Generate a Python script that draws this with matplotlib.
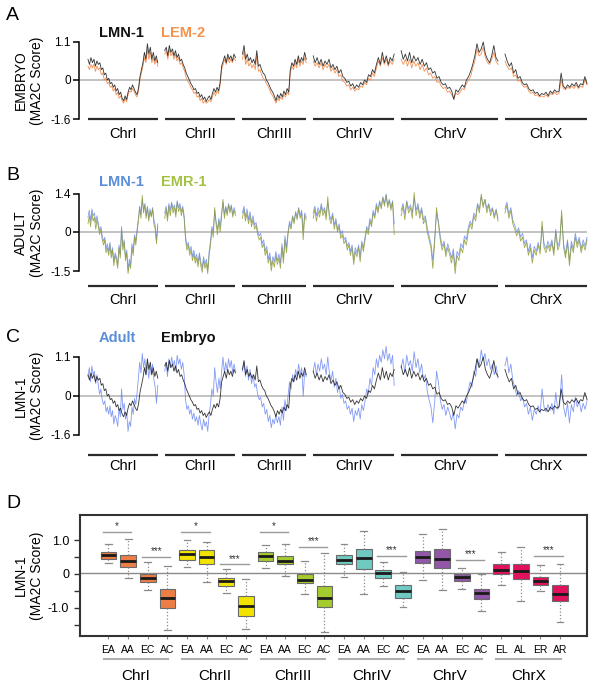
import numpy as np
import matplotlib
matplotlib.use("Agg")
import matplotlib.pyplot as plt
import matplotlib.transforms as mtransforms
from matplotlib import font_manager

names = {f.name for f in font_manager.fontManager.ttflist}
FONT = 'Liberation Sans Narrow' if 'Liberation Sans Narrow' in names else 'Liberation Sans'
plt.rcParams['font.family'] = [FONT, 'DejaVu Sans']

# ---------------- data ----------------
chroms = ['ChrI', 'ChrII', 'ChrIII', 'ChrIV', 'ChrV', 'ChrX']
chrom_len = [15.07, 15.28, 13.78, 17.49, 20.92, 17.72]   # Mb
chrom_gap = 1.5

# panel A: embryo LMN-1 (black) and LEM-2 (orange), values along each chromosome
emb_lmn1 = [
    [0.6, 0.45, 0.65, 0.5, 0.6, 0.4, 0.55, 0.45, 0.5, 0.3, 0.35, 0.15, 0.2, 0.0, 0.05, -0.15, -0.1,
     -0.3, -0.2, -0.45, -0.35, -0.6, -0.5, -0.75, -0.85, -0.65, -0.8, -0.5, -0.3, -0.4, -0.2, -0.35,
     -0.5, -0.6, -0.35, 0.1, 0.3, 0.5, 0.8, 0.6, 1.05, 0.75, 0.95, 0.6, 0.8, 0.55, 0.7, 0.5],
    [0.85, 0.95, 0.7, 1.0, 0.8, 0.9, 0.7, 0.85, 0.65, 0.75, 0.55, 0.6, 0.45, 0.35, 0.2, 0.1, 0.0, -0.15,
     -0.25, -0.4, -0.35, -0.55, -0.5, -0.7, -0.6, -0.8, -0.7, -0.88, -0.75, -0.65, -0.8, -0.55, -0.35,
     -0.5, -0.3, -0.45, -0.1, 0.4, 0.55, 0.7, 0.5, 0.75, 0.6, 0.7, 0.55, 0.75, 0.65],
    [0.75, 1.0, 0.6, 0.75, 0.55, 0.65, 0.5, 0.6, 0.45, 0.85, 0.4, 0.45, 0.3, 0.2, 0.15, 0.0, -0.1, -0.25,
     -0.4, -0.5, -0.65, -0.85, -0.6, -0.75, -0.55, -0.7, -0.45, -0.6, -0.35, -0.5, 0.3, 0.5, 0.4, 0.6,
     0.45, 0.7, 0.5, 0.65, 0.55, 0.8, 0.6],
    [0.7, 0.5, 0.65, 0.45, 0.6, 0.4, 0.55, 0.45, 0.6, 0.35, 0.45, 0.3, 0.4, 0.2, 0.3, 0.1, 0.05, -0.1,
     -0.05, -0.25, -0.15, -0.35, -0.2, -0.3, -0.1, -0.2, 0.0, -0.1, 0.15, 0.1, 0.3, 0.2, 0.45, 0.65,
     0.45, 0.8, 0.5, 0.7, 0.45, 0.65, 0.55, 0.75],
    [0.85, 0.6, 0.75, 0.55, 0.8, 0.5, 0.7, 0.55, 0.65, 0.45, 0.6, 0.4, 0.5, 0.3, 0.35, 0.2, 0.25, 0.05,
     0.1, -0.1, -0.2, -0.15, -0.35, -0.3, -0.45, -0.8, -0.4, -0.5, -0.35, -0.2, -0.3, 0.0, 0.1, 0.25,
     0.45, 0.7, 1.05, 0.8, 0.9, 1.1, 0.75, 0.6, 0.5, 0.7, 1.0, 0.65, 0.55],
    [0.75, 0.55, 0.4, 0.5, 0.2, 0.3, 0.05, 0.1, -0.1, -0.2, -0.15, -0.35, -0.45, -0.4, -0.55, -0.5,
     -0.65, -0.55, -0.6, -0.5, -0.65, -0.45, -0.55, -0.4, -0.5, -0.45, 0.2, -0.25, -0.35, -0.2, -0.3,
     -0.15, -0.25, -0.1, -0.3, -0.15, -0.2, 0.1, -0.15],
]
emb_lem2 = [
    [0.4, 0.3, 0.45, 0.35, 0.45, 0.25, 0.4, 0.3, 0.35, 0.15, 0.2, 0.0, 0.05, -0.15, -0.1, -0.3, -0.25,
     -0.45, -0.35, -0.6, -0.5, -0.75, -0.65, -0.85, -0.95, -0.75, -0.9, -0.6, -0.45, -0.5, -0.35, -0.45,
     -0.6, -0.7, -0.45, 0.0, 0.2, 0.4, 0.65, 0.5, 0.9, 0.6, 0.8, 0.5, 0.65, 0.45, 0.6, 0.4],
    [0.75, 0.85, 0.6, 0.9, 0.7, 0.8, 0.6, 0.75, 0.55, 0.65, 0.45, 0.5, 0.35, 0.25, 0.05, -0.05, -0.15,
     -0.3, -0.4, -0.55, -0.5, -0.7, -0.65, -0.85, -0.75, -0.95, -0.85, -0.95, -0.9, -0.8, -0.9, -0.7,
     -0.5, -0.65, -0.45, -0.55, -0.2, 0.3, 0.45, 0.6, 0.45, 0.65, 0.5, 0.6, 0.5, 0.65, 0.55],
    [0.6, 0.85, 0.45, 0.6, 0.4, 0.5, 0.35, 0.45, 0.3, 0.7, 0.25, 0.3, 0.15, 0.05, 0.0, -0.15, -0.25,
     -0.4, -0.55, -0.65, -0.8, -0.95, -0.75, -0.85, -0.7, -0.8, -0.6, -0.7, -0.5, -0.6, 0.2, 0.4, 0.3,
     0.5, 0.35, 0.6, 0.4, 0.55, 0.45, 0.65, 0.5],
    [0.55, 0.4, 0.5, 0.35, 0.5, 0.3, 0.45, 0.35, 0.45, 0.25, 0.35, 0.2, 0.3, 0.1, 0.15, -0.05, -0.1,
     -0.25, -0.2, -0.4, -0.3, -0.45, -0.35, -0.4, -0.25, -0.3, -0.1, -0.2, 0.05, 0.0, 0.2, 0.1, 0.35,
     0.55, 0.4, 0.65, 0.45, 0.6, 0.4, 0.55, 0.45, 0.6],
    [0.6, 0.45, 0.6, 0.4, 0.6, 0.35, 0.55, 0.4, 0.5, 0.3, 0.45, 0.25, 0.35, 0.15, 0.2, 0.05, 0.1, -0.1,
     -0.05, -0.25, -0.35, -0.3, -0.5, -0.45, -0.6, -0.75, -0.55, -0.6, -0.5, -0.35, -0.4, -0.15, 0.0,
     0.1, 0.35, 0.55, 0.9, 0.7, 0.75, 0.95, 0.65, 0.5, 0.45, 0.6, 0.8, 0.55, 0.45],
    [0.55, 0.4, 0.3, 0.35, 0.1, 0.15, -0.05, 0.0, -0.2, -0.3, -0.25, -0.45, -0.55, -0.5, -0.65, -0.6,
     -0.7, -0.65, -0.7, -0.6, -0.7, -0.55, -0.6, -0.5, -0.6, -0.55, 0.0, -0.35, -0.4, -0.3, -0.35,
     -0.25, -0.35, -0.2, -0.35, -0.25, -0.3, 0.0, -0.2],
]

# panel B: adult LMN-1 (blue) and EMR-1 (olive)
adu_lmn1 = [
    [0.55, 0.8, 0.4, 0.85, 0.6, 0.7, 0.35, 0.6, 0.3, 0.05, 0.2, -0.15, -0.35, -0.2, -0.65, -0.45, -0.75,
     -0.4, -0.85, -0.6, -1.15, -0.8, -0.95, -1.25, -0.5, -0.85, 0.2, -0.55, -0.3, -0.95, -0.7, -1.45,
     -1.05, -1.25, -0.45, -0.75, -0.1, -0.35, 0.1, 0.5, 0.95, 0.65, 1.2, 0.8, 1.05, 0.6, 0.95, 0.5,
     0.85, 0.6, 0.9, 0.45, 0.25, -0.3, 0.3],
    [0.7, 0.95, 0.55, 1.05, 0.8, 1.1, 0.85, 1.0, 0.7, 1.15, 0.9, 1.05, 0.75, 0.95, 0.6, -0.15, -0.55,
     -0.4, -0.75, -0.55, -0.95, -0.7, -1.05, -0.85, -1.2, -0.8, -1.15, -1.4, -0.95, -1.25, -1.05, -1.45,
     -0.75, -0.35, 0.2, 0.0, 0.8, 0.4, 0.1, 0.5, 0.2, 0.7, 1.1, 0.65, 0.95, 0.7, 1.05, 0.8, 1.0, 0.65,
     0.9, 0.7],
    [0.7, 0.95, 0.55, 0.85, 0.45, 0.75, 0.35, 0.6, 0.25, 0.35, 0.05, -0.15, -0.05, -0.45, -0.3, -0.75,
     -0.55, -1.05, -0.8, -1.3, -0.95, -1.15, -0.75, -1.1, -0.85, -1.2, -0.45, -1.0, -0.15, -0.6, 0.0,
     0.4, 0.2, 0.6, 0.4, 0.75, 0.55, 0.9, 0.6, 0.8, 0.0, 0.7, 0.55],
    [0.7, 0.95, 0.6, 0.9, 0.7, 1.05, 0.75, 0.9, 0.6, 1.1, 0.65, 0.45, 0.7, 0.25, 0.5, 0.1, 0.3, -0.1,
     0.05, -0.3, -0.2, -0.55, -0.4, -0.75, -0.5, -1.05, -0.6, -0.8, -0.5, -0.95, -0.35, -0.6, -0.2, 0.2,
     0.05, 0.5, 0.3, 0.8, 0.6, 1.05, 0.8, 1.15, 0.95, 1.3, 1.05, 1.4, 1.0, 1.2, 0.9, 1.15, 0.3],
    [0.8, 1.05, 0.65, 1.15, 0.85, 1.0, 0.7, 1.25, 0.8, 1.05, 0.65, 0.9, 0.45, 0.6, 0.15, -0.15, -0.45,
     -1.1, -0.25, 0.7, 0.4, -0.15, -0.55, -0.35, -0.8, -0.45, -0.7, -1.0, -0.65, -1.35, -0.75, -0.9,
     -0.45, -0.6, -0.15, -0.3, 0.15, 0.4, 0.25, 0.7, 0.55, 1.05, 0.85, 1.3, 1.0, 1.2, 0.85, 1.05, 0.75,
     0.9, 0.6, 0.85, 0.5],
    [0.85, 1.1, 0.65, 0.9, 0.45, 0.25, 0.0, 0.15, -0.2, -0.05, -0.45, -0.3, -0.75, -0.45, -1.0, -0.55,
     -0.75, -0.4, -0.7, 0.2, -0.45, -0.65, -0.35, -0.6, -0.3, -0.75, 0.1, -0.55, -0.35, 0.6, -0.45,
     -0.85, -0.3, -1.1, -0.35, -0.65, -0.05, -0.45, -0.2, -0.65, -0.3, -0.55, -0.2],
]
adu_emr1 = [
    [0.3, 0.6, 0.2, 0.7, 0.4, 0.55, 0.1, 0.45, 0.2, -0.1, 0.1, -0.3, -0.5, -0.3, -0.8, -0.6, -0.9, -0.5,
     -1.0, -0.7, -1.3, -0.9, -1.1, -1.4, -0.6, -1.0, 0.1, -0.7, -0.4, -1.1, -0.8, -1.6, -1.2, -1.4,
     -0.6, -0.9, -0.2, -0.5, 0.0, 0.4, 0.9, 0.5, 1.35, 0.7, 1.0, 0.5, 0.9, 0.4, 0.75, 0.55, 0.85, 0.3,
     0.1, -0.45, 0.2],
    [0.5, 0.85, 0.4, 0.95, 0.6, 1.05, 0.7, 0.9, 0.55, 1.1, 0.75, 0.95, 0.6, 0.85, 0.5, -0.3, -0.7,
     -0.5, -0.9, -0.7, -1.1, -0.85, -1.2, -1.0, -1.35, -0.9, -1.3, -1.55, -1.1, -1.4, -1.2, -1.6, -0.9,
     -0.5, 0.1, -0.2, 0.9, 0.3, -0.1, 0.4, 0.0, 0.6, 1.2, 0.5, 0.9, 0.6, 1.0, 0.7, 0.95, 0.55, 0.8, 0.6],
    [0.5, 0.85, 0.4, 0.7, 0.3, 0.6, 0.2, 0.45, 0.1, 0.25, -0.1, -0.3, -0.2, -0.6, -0.45, -0.9, -0.7,
     -1.2, -0.95, -1.5, -1.1, -1.35, -0.9, -1.25, -1.0, -1.4, -0.6, -1.2, -0.3, -0.8, -0.1, 0.3, 0.1,
     0.55, 0.3, 0.7, 0.45, 0.85, 0.5, 0.7, -0.3, 0.6, 0.45],
    [0.5, 0.85, 0.4, 0.75, 0.55, 0.95, 0.6, 0.8, 0.45, 1.3, 0.5, 0.3, 0.6, 0.1, 0.4, 0.0, 0.2, -0.25,
     -0.1, -0.45, -0.3, -0.7, -0.5, -0.9, -0.6, -1.25, -0.75, -0.95, -0.6, -1.15, -0.45, -0.75, -0.3,
     0.1, -0.1, 0.4, 0.2, 0.7, 0.5, 0.95, 0.7, 1.1, 0.85, 1.25, 0.95, 1.35, 0.9, 1.15, 0.8, 1.1, -0.1],
    [0.6, 0.95, 0.45, 1.1, 0.7, 0.9, 0.5, 1.45, 0.6, 0.95, 0.5, 0.8, 0.3, 0.5, 0.0, -0.3, -0.6, -1.4,
     -0.4, 0.9, 0.3, -0.3, -0.7, -0.45, -0.95, -0.6, -0.85, -1.2, -0.8, -1.6, -0.9, -1.1, -0.6, -0.8,
     -0.3, -0.5, 0.0, 0.3, 0.1, 0.6, 0.4, 1.0, 0.7, 1.4, 0.9, 1.2, 0.7, 1.0, 0.6, 0.85, 0.5, 0.8, 0.4],
    [0.7, 1.0, 0.5, 0.8, 0.3, 0.1, -0.15, 0.05, -0.35, -0.2, -0.6, -0.4, -0.9, -0.6, -1.2, -0.7, -0.9,
     -0.5, -0.85, 0.4, -0.6, -0.8, -0.5, -0.75, -0.4, -0.9, 0.0, -0.7, -0.5, 0.8, -0.6, -1.0, -0.4,
     -1.3, -0.5, -0.8, -0.2, -0.6, -0.3, -0.8, -0.45, -0.7, -0.3],
]

# panel D: box statistics, 4 boxes per chromosome
box_labels = ['EA', 'AA', 'EC', 'AC'] * 5 + ['EL', 'AL', 'ER', 'AR']
box_hi = [0.89, 1.04, 0.35, 0.22, 1.01, 0.94, 0.15, -0.15, 0.84, 0.89, 0.37, 0.61,
          0.89, 1.28, 0.34, 0.05, 1.18, 1.33, 0.18, 0.00, 0.64, 0.79, 0.25, 0.30]
box_q3 = [0.64, 0.57, 0.00, -0.44, 0.71, 0.69, -0.12, -0.65, 0.65, 0.54, -0.02, -0.36,
          0.57, 0.73, 0.10, -0.32, 0.67, 0.73, 0.00, -0.44, 0.30, 0.28, -0.08, -0.32]
box_med = [0.56, 0.39, -0.12, -0.71, 0.59, 0.49, -0.20, -0.95, 0.52, 0.39, -0.17, -0.73,
           0.42, 0.47, 0.01, -0.52, 0.50, 0.44, -0.09, -0.58, 0.12, 0.07, -0.22, -0.59]
box_q1 = [0.44, 0.20, -0.24, -1.02, 0.42, 0.30, -0.35, -1.25, 0.39, 0.30, -0.28, -0.99,
          0.30, 0.15, -0.12, -0.71, 0.33, 0.18, -0.20, -0.76, 0.00, -0.15, -0.32, -0.79]
box_lo = [0.32, -0.12, -0.49, -1.65, 0.20, -0.25, -0.57, -1.63, 0.18, -0.05, -0.61, -1.73,
          -0.10, -0.59, -0.35, -0.99, -0.18, -0.49, -0.44, -1.11, -0.32, -0.79, -0.52, -1.43]
chrom_colors = ['#EC7E45', '#F2E400', '#A5CB2F', '#6FCAC2', '#9257A8', '#E0125D']

sig_left = [1, 3, 5, 7, 9, 11, 15, 19, 23]
sig_right = [2, 4, 6, 8, 10, 12, 16, 20, 24]
sig_text = ['*', '***', '*', '***', '*', '***', '***', '***', '***']
sig_level = [1.23, 0.49, 1.23, 0.28, 1.23, 0.79, 0.54, 0.41, 0.52]

# ---------------- layout helpers ----------------
W, H = 600, 685
fig = plt.figure(figsize=(6, 6.85), dpi=100)


def rect(x0, y0, x1, y1):
    return [x0 / W, 1 - y1 / H, (x1 - x0) / W, (y1 - y0) / H]


starts = np.concatenate([[0], np.cumsum(np.array(chrom_len) + chrom_gap)[:-1]])
ends = starts + np.array(chrom_len)
centers = (starts + ends) / 2


def track(top, bottom, zero, tick_top, tick_bot, pad):
    ax = fig.add_axes(rect(79, top, 590, bottom))
    (vt, pt), (vb, pb) = tick_top, tick_bot
    pp = (zero - pt) / vt
    nn = (pb - zero) / (-vb)
    r = nn / pp
    ax.set_yscale('function', functions=(lambda v: np.where(v >= 0, v, v * r),
                                         lambda u: np.where(u >= 0, u, u / r)))
    ax.set_ylim(-(bottom - zero) / nn, (zero - top) / pp)
    ax.set_xlim(-1.94, 108.4)
    for s in ['top', 'right', 'bottom']:
        ax.spines[s].set_visible(False)
    ax.spines['left'].set_bounds(vb, vt)
    ax.spines['left'].set_linewidth(1.1)
    ax.set_yticks([vb, 0, vt], ['%g' % vb, '0', '%g' % vt])
    ax.yaxis.set_minor_locator(matplotlib.ticker.NullLocator())
    ax.tick_params(axis='y', length=4, width=1.1, pad=2, labelsize=8.5)
    ax.set_xticks(centers, chroms)
    ax.tick_params(axis='x', length=0, pad=pad, labelsize=10.5)
    ax.hlines(0, -1.94, ends[-1], color='#b8b8b8', lw=1.2, zorder=0)
    trans = mtransforms.blended_transform_factory(ax.transData, ax.transAxes)
    ax.hlines([0] * 6, starts, ends, transform=trans, colors='#2a2a2a', lw=1.6, clip_on=False)
    return ax


def draw_series(ax, series, color, lw=0.6, alpha=0.9):
    for i, vals in enumerate(series):
        x = starts[i] + np.linspace(0, chrom_len[i], len(vals))
        ax.plot(x, vals, color=color, lw=lw, alpha=alpha, clip_on=False)


def ylabel(line1, y):
    fig.text(21 / W, 1 - y / H, line1, rotation=90, ha='center', va='center', fontsize=10)
    fig.text(37 / W, 1 - y / H, '(MA2C Score)', rotation=90, ha='center', va='center', fontsize=10)


def letter(s, y):
    fig.text(6 / W, 1 - y / H, s, fontsize=14, va='center', ha='left')


def legend(items, y):
    for (s, c), x in zip(items, [99, 161]):
        fig.text(x / W, 1 - y / H, s, color=c, fontweight='bold', fontsize=10.5, va='center')


# ---------------- panel A ----------------
axA = track(30, 119, 80, (1.1, 42), (-1.6, 119), 6)
draw_series(axA, emb_lem2, '#F28442')
draw_series(axA, emb_lmn1, '#1e1e1e')
letter('A', 15)
legend([('LMN-1', '#111111'), ('LEM-2', '#F6914C')], 33)
ylabel('EMBRYO', 80.5)

# ---------------- panel B ----------------
axB = track(183, 286, 232, (1.4, 194), (-1.5, 271), 5)
draw_series(axB, adu_lmn1, '#6d8cf0', alpha=0.85)
draw_series(axB, adu_emr1, '#8e9a33', alpha=0.85)
letter('B', 175)
legend([('LMN-1', '#5b8ed9'), ('EMR-1', '#a3c244')], 182)
ylabel('ADULT', 232.5)

# ---------------- panel C ----------------
axC = track(345, 455, 396, (1.1, 357), (-1.6, 435), 3)
draw_series(axC, adu_lmn1, '#5a78f0', alpha=0.75)
draw_series(axC, emb_lmn1, '#1e1e1e')
letter('C', 337)
legend([('Adult', '#5b8ed9'), ('Embryo', '#111111')], 338)
ylabel('LMN-1', 396)

# ---------------- panel D ----------------
axD = fig.add_axes(rect(79.5, 515, 586.7, 636))
pos = np.arange(1, len(box_labels) + 1)
stats = [dict(med=m, q1=a, q3=b, whislo=lo, whishi=hi)
         for m, a, b, lo, hi in zip(box_med, box_q1, box_q3, box_lo, box_hi)]
bp = axD.bxp(stats, positions=pos, widths=0.8, patch_artist=True, showfliers=False,
             capwidths=0.35,
             boxprops=dict(edgecolor='#6a6a6a', linewidth=0.8),
             medianprops=dict(color='#1a1a1a', linewidth=2),
             whiskerprops=dict(color='#8a8a8a', linestyle=':', linewidth=0.9),
             capprops=dict(color='#8a8a8a', linewidth=0.9))
for i, patch in enumerate(bp['boxes']):
    patch.set_facecolor(chrom_colors[i // 4])
axD.axhline(0.03, color='#8a8a8a', lw=1, zorder=0.5)
axD.set_xlim(-0.476, 25.36)
axD.set_ylim(-1.84, 1.74)
for s in axD.spines.values():
    s.set_linewidth(1.5)
    s.set_color('#333333')
axD.set_yticks([-1.5, -1.0, -0.5, 0, 0.5, 1.0], ['', '-1.0', '', '0', '', '1.0'])
axD.tick_params(axis='y', length=4.5, width=1, pad=3, labelsize=9, color='#333333')
axD.set_xticks(pos, box_labels)
axD.tick_params(axis='x', length=2.5, width=0.8, pad=4, labelsize=7.5, color='#888888')

for l, r_, t, lev in zip(sig_left, sig_right, sig_text, sig_level):
    axD.plot([l - 0.3, r_ + 0.15], [lev, lev], color='#9a9a9a', lw=1)
    axD.text((l + r_) / 2 - 0.07, lev + 0.02, t, ha='center', va='bottom', fontsize=7, color='#333333')

transD = mtransforms.blended_transform_factory(axD.transData, axD.transAxes)
for g in range(6):
    x0, x1 = pos[4 * g] - 0.25, pos[4 * g + 3] + 0.05
    axD.plot([x0, x1], [-0.19, -0.19], transform=transD, color='#b0b0b0', lw=1.5, clip_on=False)
    axD.text((x0 + x1) / 2, -0.33, chroms[g], transform=transD, ha='center', va='center', fontsize=11)

letter('D', 503)
fig.text(21 / W, 1 - 575.5 / H, 'LMN-1', rotation=90, ha='center', va='center', fontsize=10)
fig.text(37 / W, 1 - 575.5 / H, '(MA2C Score)', rotation=90, ha='center', va='center', fontsize=10)

fig.savefig('out.png', dpi=100)
